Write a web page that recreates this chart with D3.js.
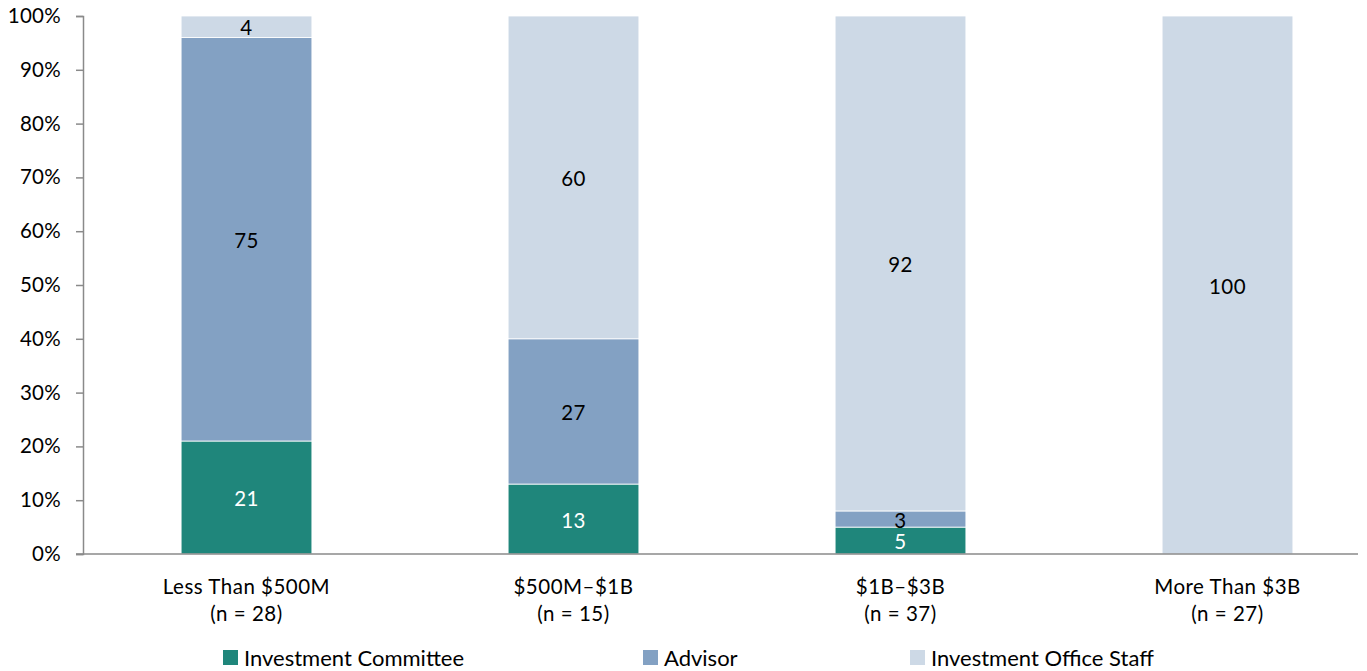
<!DOCTYPE html>
<html>
<head>
<meta charset="utf-8">
<script src="https://cdn.jsdelivr.net/npm/d3@7"></script>
<style>
  html, body { margin: 0; padding: 0; background: #fff; }
  svg { display: block; font-family: Lato, "Open Sans", sans-serif; }
</style>
</head>
<body>
<svg id="chart" width="1367" height="671"></svg>
<script>
// Asset-size groups and their sample sizes
const categories = ["Less Than $500M", "$500M–$1B", "$1B–$3B", "More Than $3B"];
const sampleSizes = [28, 15, 37, 27];

// Share (%) of each decision maker within a group
const seriesNames = ["Investment Committee", "Advisor", "Investment Office Staff"];
const committee = [21, 13, 5, 0];
const advisor = [75, 27, 3, 0];
const officeStaff = [4, 60, 92, 100];

const colors = ["#1F867B", "#83A1C3", "#CDD9E6"];
const labelColors = ["#ffffff", "#000000", "#000000"];

const yTicks = [0, 0.1, 0.2, 0.3, 0.4, 0.5, 0.6, 0.7, 0.8, 0.9, 1.0];

const rows = categories.map((c, i) => ({
  cat: c,
  "Investment Committee": committee[i],
  "Advisor": advisor[i],
  "Investment Office Staff": officeStaff[i]
}));
const stacked = d3.stack().keys(seriesNames)(rows);

const svg = d3.select("#chart");

const axisLeft = 83, axisRight = 1358;
const x = d3.scaleBand()
  .domain(categories)
  .range([83, 1391])
  .paddingInner(0.6)
  .paddingOuter(0.3);
const y = d3.scaleLinear().domain([0, 100]).range([554, 16]);

// Bars
const layers = svg.append("g").selectAll("g")
  .data(stacked)
  .join("g")
  .attr("fill", (d, i) => colors[i]);

layers.selectAll("rect")
  .data(d => d.filter(s => s[1] - s[0] > 0))
  .join("rect")
  .attr("x", d => x(d.data.cat))
  .attr("width", x.bandwidth())
  .attr("y", d => y(d[1]))
  .attr("height", d => y(d[0]) - y(d[1]))
  .attr("stroke", "#ffffff")
  .attr("stroke-width", 0.8);

// Value labels inside segments
stacked.forEach((layer, i) => {
  svg.append("g").selectAll("text")
    .data(layer.filter(s => s[1] - s[0] > 0))
    .join("text")
    .attr("x", d => x(d.data.cat) + x.bandwidth() / 2)
    .attr("y", d => (y(d[0]) + y(d[1])) / 2)
    .attr("dy", "0.42em")
    .attr("text-anchor", "middle")
    .attr("font-size", 20.5)
    .attr("letter-spacing", 0.4)
    .attr("fill", labelColors[i])
    .text(d => d[1] - d[0]);
});

// Y axis
const yAxis = d3.axisLeft(y.copy().domain([0, 1]))
  .tickValues(yTicks)
  .tickFormat(d3.format(".0%"))
  .tickSize(7)
  .tickPadding(15);
const gy = svg.append("g")
  .attr("transform", `translate(${axisLeft},0)`)
  .call(yAxis);
gy.select(".domain").attr("stroke", "#8a8a8a").attr("stroke-width", 1.5);
gy.selectAll(".tick line").attr("stroke", "#8a8a8a").attr("stroke-width", 1.5);
gy.selectAll(".tick text")
  .attr("font-size", 20.5)
  .attr("letter-spacing", 0.3)
  .attr("font-family", "Lato, 'Open Sans', sans-serif")
  .attr("fill", "#000");

// X axis baseline
svg.append("line")
  .attr("x1", axisLeft - 7).attr("x2", axisRight)
  .attr("y1", y(0)).attr("y2", y(0))
  .attr("stroke", "#8a8a8a")
  .attr("stroke-width", 1.5);

// Category labels
const catLabels = svg.append("g").selectAll("text")
  .data(categories)
  .join("text")
  .attr("x", d => x(d) + x.bandwidth() / 2)
  .attr("text-anchor", "middle")
  .attr("font-size", 20.5)
  .attr("letter-spacing", 0.5)
  .attr("fill", "#000");
catLabels.append("tspan")
  .attr("x", d => x(d) + x.bandwidth() / 2)
  .attr("y", 594)
  .text(d => d);
catLabels.append("tspan")
  .attr("x", d => x(d) + x.bandwidth() / 2)
  .attr("y", 621)
  .text((d, i) => `(n = ${sampleSizes[i]})`);

// Legend
const legendX = [223, 643, 910];
const legend = svg.append("g").selectAll("g")
  .data(seriesNames)
  .join("g")
  .attr("transform", (d, i) => `translate(${legendX[i]},650)`);
legend.append("rect")
  .attr("width", 15).attr("height", 15)
  .attr("fill", (d, i) => colors[i]);
legend.append("text")
  .attr("x", 21)
  .attr("y", 16)
  .attr("font-size", 22)
  .attr("fill", "#000")
  .text(d => d);
</script>
</body>
</html>
